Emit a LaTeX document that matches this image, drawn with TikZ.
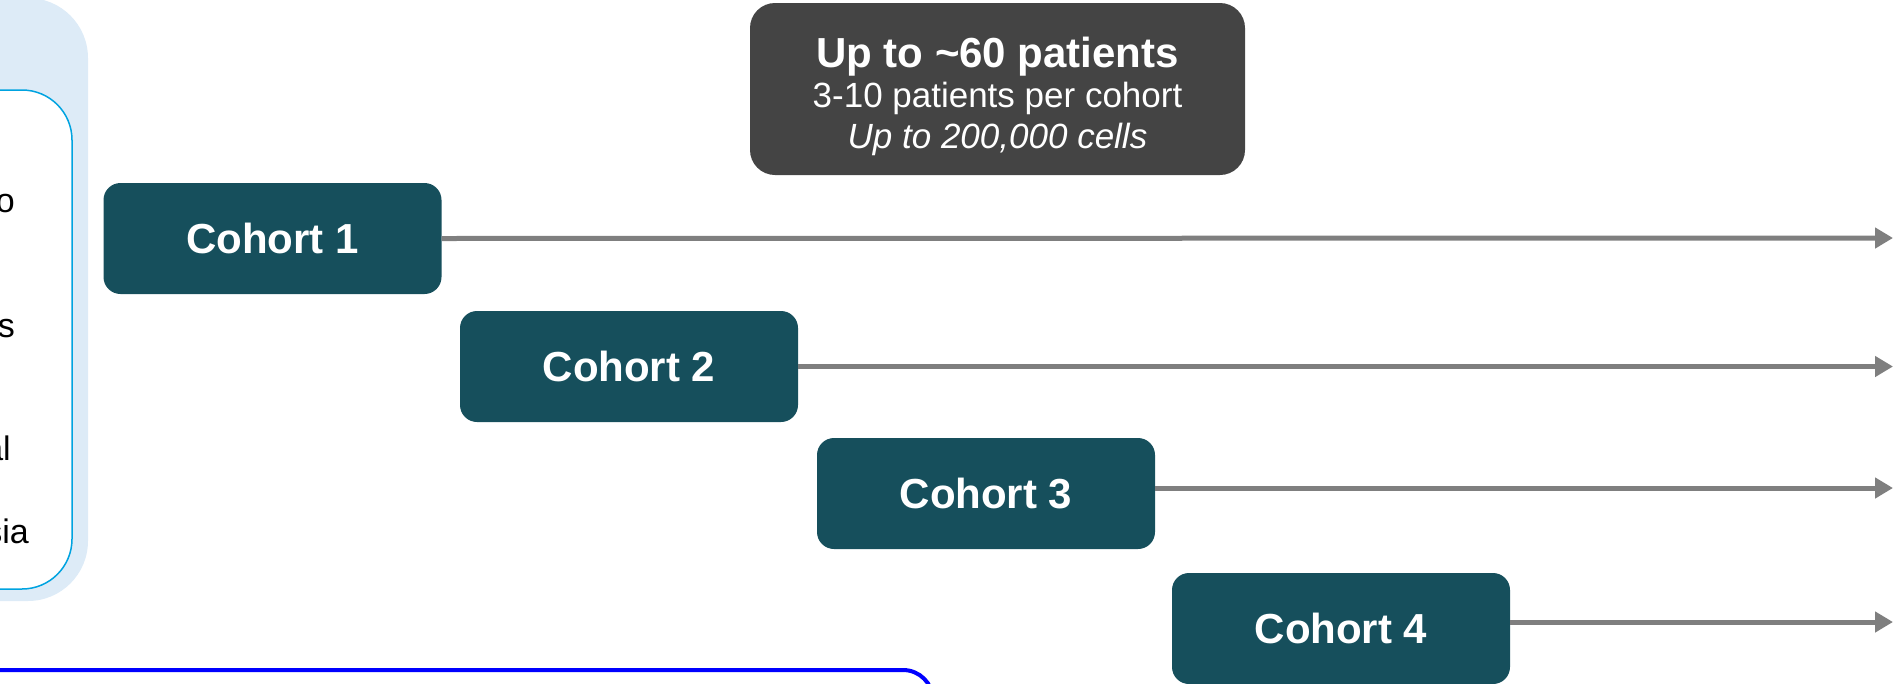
\documentclass[tikz,border=0pt]{standalone}
\usepackage{fontspec}
\setmainfont{Liberation Sans}
\usetikzlibrary{arrows.meta}
\definecolor{cohortfill}{HTML}{164F5C}
\definecolor{panelblue}{HTML}{DDEBF7}
\definecolor{panelline}{HTML}{00A3E0}
\definecolor{darkbox}{HTML}{444444}
\definecolor{arrowgray}{HTML}{7F7F7F}
\definecolor{pureblue}{HTML}{0000FF}
\tikzset{
  cohortbox/.style={fill=cohortfill, rounded corners=17pt, minimum width=338pt,
    minimum height=111pt, inner sep=0pt, text=white,
    font=\fontsize{42}{50}\selectfont\bfseries},
  timeline/.style={draw=arrowgray, line width=5pt,
    -{Triangle[length=18pt,width=20pt]}},
  sidetext/.style={anchor=base east, inner sep=0pt, font=\fontsize{34}{40}\selectfont},
  graytext/.style={anchor=base, inner sep=0pt, text=white}
}
\begin{document}
\begin{tikzpicture}[x=1pt,y=-1pt]
\useasboundingbox (0,0) rectangle (1903,683);
\begin{scope}
\clip (0,0) rectangle (1903,683);
% left panel
\fill[panelblue, rounded corners=60pt] (-150,-2) rectangle (88,601);
\draw[panelline, line width=1.5pt, fill=white, rounded corners=50pt] (-150,90) rectangle (72,589);
\node[sidetext] (t1) at (15,212) {o};
\node[sidetext] (t2) at (15,337) {s};
\node[sidetext] (t3) at (11,460) {al};
\node[sidetext] (t4) at (29,543) {sia};
% bottom blue box
\draw[pureblue, line width=4pt, rounded corners=30pt] (-150,670) rectangle (933,900);
% gray info box
\node[fill=darkbox, rounded corners=25pt, minimum width=495pt, minimum height=172pt, inner sep=0pt] (info) at (997.5,89) {};
\node[graytext, font=\fontsize{42}{50}\selectfont\bfseries] (l1) at (997.5,67) {Up to \textasciitilde60 patients};
\node[graytext, font=\fontsize{35}{42}\selectfont] (l2) at (997.5,107) {3-10 patients per cohort};
\node[graytext, font=\fontsize{35}{42}\selectfont\itshape] (l3) at (997.5,148) {Up to 200,000 cells};
% cohorts
\node[cohortbox] (c1) at (272.5,238.5) {Cohort 1};
\node[cohortbox] (c2) at (629,366.5) {Cohort 2};
\node[cohortbox] (c3) at (986,493.5) {Cohort 3};
\node[cohortbox] (c4) at (1341,628.5) {Cohort 4};
\coordinate (e1) at (1893,238);
\coordinate (e2) at (1893,366.5);
\coordinate (e3) at (1893,488);
\coordinate (e4) at (1893,622);
\draw[timeline] (c1.east) -- (e1);
\draw[timeline] (c2.east) -- (e2);
\draw[timeline] ([yshift=5.5pt]c3.east) -- (e3);
\draw[timeline] ([yshift=6.5pt]c4.east) -- (e4);
\end{scope}
\end{tikzpicture}
\end{document}
